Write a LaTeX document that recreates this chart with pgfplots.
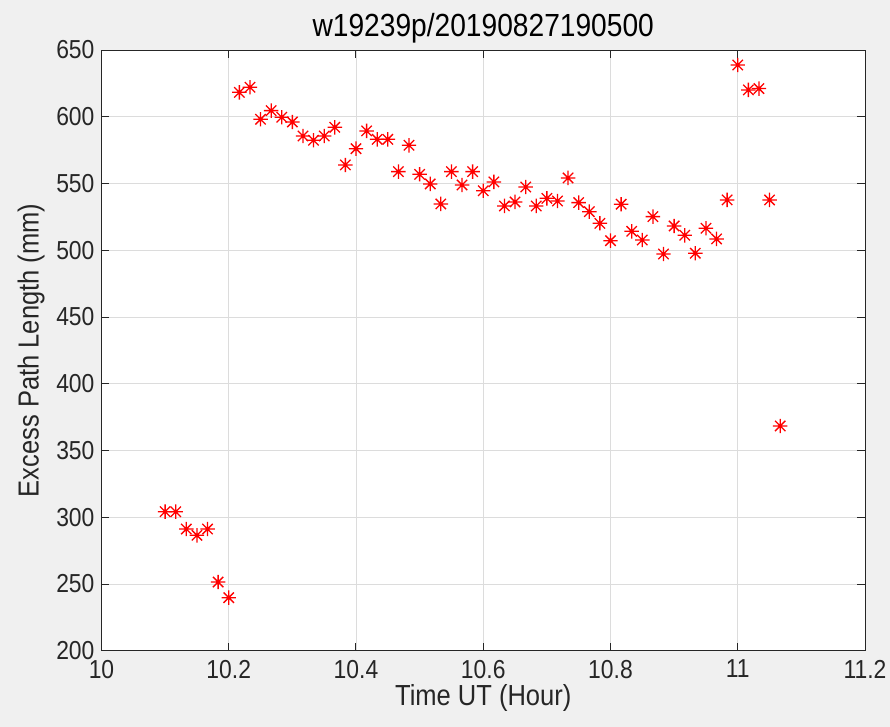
\documentclass[border=0pt]{standalone}
\usepackage{fontspec}
\setmainfont{Liberation Sans}[FakeStretch=0.88]
\usepackage{pgfplots}
\pgfplotsset{compat=1.18}
\definecolor{FigBg}{HTML}{F0F0F0}
\definecolor{AxLine}{HTML}{262626}
\definecolor{GridC}{HTML}{DCDCDC}

% MATLAB style '*' marker: a plus and a cross on top of each other
\pgfdeclareplotmark{mstar}{%
  \pgfpathmoveto{\pgfqpoint{-\pgfplotmarksize}{0pt}}%
  \pgfpathlineto{\pgfqpoint{\pgfplotmarksize}{0pt}}%
  \pgfpathmoveto{\pgfqpoint{0pt}{-\pgfplotmarksize}}%
  \pgfpathlineto{\pgfqpoint{0pt}{\pgfplotmarksize}}%
  \pgfpathmoveto{\pgfqpoint{-0.72\pgfplotmarksize}{-0.72\pgfplotmarksize}}%
  \pgfpathlineto{\pgfqpoint{0.72\pgfplotmarksize}{0.72\pgfplotmarksize}}%
  \pgfpathmoveto{\pgfqpoint{-0.72\pgfplotmarksize}{0.72\pgfplotmarksize}}%
  \pgfpathlineto{\pgfqpoint{0.72\pgfplotmarksize}{-0.72\pgfplotmarksize}}%
  \pgfusepathqstroke}

\pgfplotstableread{
t       epl
10.1000 304.2
10.1167 304.2
10.1333 291.2
10.1500 286.5
10.1667 291.2
10.1833 251.5
10.2000 239.8
10.2167 618.3
10.2333 622.1
10.2500 598.1
10.2667 604.6
10.2833 599.6
10.3000 596.1
10.3167 585.6
10.3333 582.4
10.3500 585.6
10.3667 592.1
10.3833 563.9
10.4000 576.1
10.4167 589.4
10.4333 583.1
10.4500 583.1
10.4667 558.9
10.4833 578.6
10.5000 556.9
10.5167 549.7
10.5333 534.7
10.5500 558.9
10.5667 548.9
10.5833 558.9
10.6000 544.6
10.6167 551.2
10.6333 533.2
10.6500 536.2
10.6667 547.4
10.6833 533.2
10.7000 538.9
10.7167 536.9
10.7333 554.2
10.7500 535.7
10.7667 528.9
10.7833 520.2
10.8000 507.2
10.8167 534.5
10.8333 514.2
10.8500 507.7
10.8667 525.2
10.8833 497.2
10.9000 518.2
10.9167 511.2
10.9333 497.8
10.9500 516.5
10.9667 508.5
10.9833 537.7
11.0000 638.8
11.0167 620.1
11.0333 621.1
11.0500 537.7
11.0667 368.4
}\epldata

\begin{document}
\begin{tikzpicture}
\fill[FigBg] (-50.75pt,-38.1pt) rectangle (394.25pt,325.4pt);
\useasboundingbox (-50.75pt,-38.1pt) rectangle (394.25pt,325.4pt);
\begin{axis}[
  at={(0,0)},anchor=south west,
  scale only axis,width=381.75pt,height=300.4pt,
  axis background/.style={fill=white},
  xmin=10,xmax=11.2,ymin=200,ymax=650,
  xtick={10,10.2,...,11.2},ytick={200,250,...,650},
  xticklabels={10,10.2,10.4,10.6,10.8,11,11.2},
  grid=major,grid style={draw=GridC,line width=0.4pt},
  axis line style={draw=AxLine,line width=0.5pt},
  tick style={draw=AxLine,line width=0.5pt},
  major tick length=4pt,
  tick align=inside,
  /pgf/number format/assume math mode=true,
  ticklabel style={font=\fontsize{13}{15}\selectfont,text=AxLine},
  xticklabel style={yshift=-1pt},
  label style={font=\fontsize{14.5}{16}\selectfont,text=AxLine},
  title style={font=\fontsize{16}{18}\selectfont,text=black,yshift=-6pt},
  title={w19239p/20190827190500},
  xlabel={Time UT (Hour)},
  ylabel={Excess Path Length (mm)},
  xlabel style={yshift=4pt},
  ylabel style={yshift=-1pt},
]
\addplot[only marks,mark=mstar,mark size=3.6pt,draw=red,line width=0.65pt]
  table[x=t,y=epl]{\epldata};
\end{axis}
\end{tikzpicture}
\end{document}
